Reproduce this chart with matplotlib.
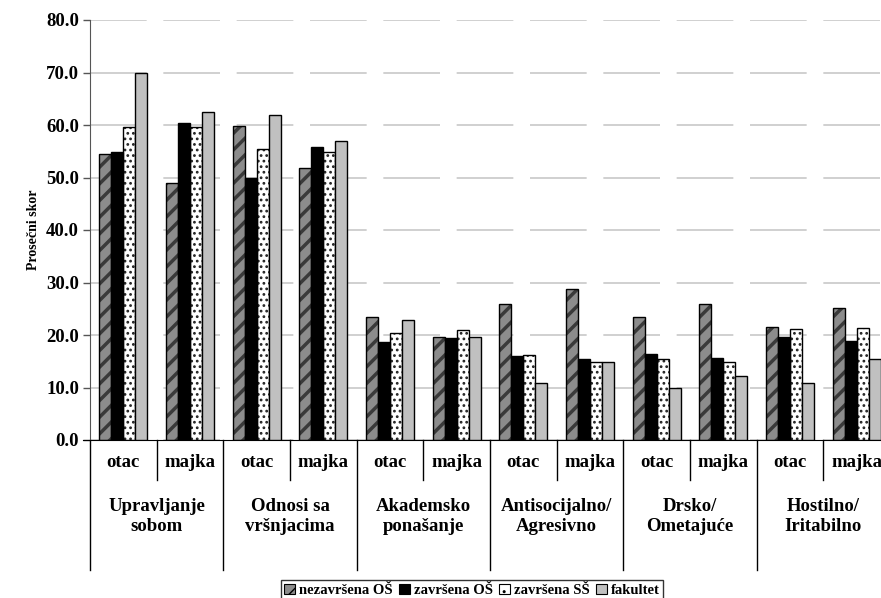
import numpy as np
import matplotlib.pyplot as plt
import matplotlib.transforms as mtransforms
from matplotlib.patches import Patch

plt.rcParams['font.family'] = ['Liberation Serif', 'DejaVu Serif']
plt.rcParams['font.weight'] = 'bold'
plt.rcParams['axes.labelweight'] = 'bold'

# data
groups = ['Upravljanje\nsobom', 'Odnosi sa\nvršnjacima', 'Akademsko\nponašanje',
          'Antisocijalno/\nAgresivno', 'Drsko/\nOmetajuće', 'Hostilno/\nIritabilno']
parents = ['otac', 'majka']
series = ['nezavršena OŠ', 'završena OŠ', 'završena SŠ', 'fakultet']

nezavrsena_os = [54.4, 48.9, 59.9, 51.9, 23.5, 19.7, 25.9, 28.7, 23.4, 25.9, 21.5, 25.2]
zavrsena_os = [54.9, 60.4, 50.0, 55.9, 18.7, 19.4, 16.0, 15.5, 16.3, 15.7, 19.7, 18.9]
zavrsena_ss = [59.7, 59.7, 55.5, 54.9, 20.3, 21.0, 16.1, 14.8, 15.5, 14.8, 21.1, 21.3]
fakultet = [70.0, 62.5, 61.9, 57.0, 22.9, 19.7, 10.9, 14.9, 9.9, 12.2, 10.9, 15.4]

values = [nezavrsena_os, zavrsena_os, zavrsena_ss, fakultet]
faces = ['#8c8c8c', 'black', 'white', '#c0c0c0']
hatches = ['//', None, '...', None]
hatch_cols = ['#3a3a3a', None, '#222222', None]
hatch_lw = [2.5, 1.0, 1.2, 1.0]

fig = plt.figure(figsize=(8.81, 5.98), dpi=100)
ax = fig.add_axes([90 / 881, 1 - 440 / 598, 800 / 881, 420 / 598])

n = len(nezavrsena_os)
x = np.arange(n)
w = 0.18
off0 = 0.14

for i, vals in enumerate(values):
    xs = x + off0 + i * w
    if hatches[i]:
        with plt.rc_context({'hatch.linewidth': hatch_lw[i]}):
            ax.bar(xs, vals, width=w, align='edge', color=faces[i], hatch=hatches[i],
                   edgecolor=hatch_cols[i], linewidth=0, zorder=2)
        ax.bar(xs, vals, width=w, align='edge', fill=False, edgecolor='black',
               linewidth=1, zorder=3)
    else:
        ax.bar(xs, vals, width=w, align='edge', color=faces[i], edgecolor='black',
               linewidth=1, zorder=3)

ax.set_xlim(0, n)
ax.set_ylim(0, 80)
ax.set_yticks(np.arange(0, 81, 10))
ax.set_yticklabels(['%.1f' % v for v in np.arange(0, 81, 10)], fontsize=13.5)
ax.yaxis.grid(True, color='#c8c8c8', linewidth=1.2, dashes=(34, 10), zorder=0)
ax.set_axisbelow(True)
ax.tick_params(axis='y', direction='out', length=5, width=1, color='#555555', pad=3)
ax.set_xticks([])
for s in ['top', 'right']:
    ax.spines[s].set_visible(False)
ax.spines['left'].set_color('#555555')
ax.spines['bottom'].set_color('black')
ax.spines['bottom'].set_bounds(-0.1, n)

ax.set_ylabel('Prosečni skor', fontsize=10, labelpad=4)

trans = mtransforms.blended_transform_factory(ax.transData, ax.transAxes)
for k in range(n + 1):
    low = -0.31 if k % 2 == 0 else -0.095
    ax.plot([k, k], [0, low], transform=trans, color='black', linewidth=1,
            clip_on=False, zorder=1)
for k in range(n):
    ax.text(k + 0.5, -0.053, parents[k % 2], transform=trans, ha='center',
            va='center', fontsize=13.5)
for g, name in enumerate(groups):
    ax.text(2 * g + 1, -0.183, name, transform=trans, ha='center', va='center',
            fontsize=13.5, linespacing=1.25)

handles = []
for i in range(4):
    with plt.rc_context({'hatch.linewidth': 1.0}):
        handles.append(Patch(facecolor=faces[i], hatch=hatches[i] and hatches[i][:2],
                             edgecolor='black', linewidth=0.8))
fig.legend(handles, series, loc='lower center', bbox_to_anchor=(472 / 881, -0.012),
           ncol=4, fontsize=10.5, frameon=True, fancybox=False, edgecolor='black',
           handlelength=0.75, handleheight=0.75, handletextpad=0.25, columnspacing=0.45,
           borderpad=0.25, borderaxespad=0.3)

fig.savefig('out.png', dpi=100)
